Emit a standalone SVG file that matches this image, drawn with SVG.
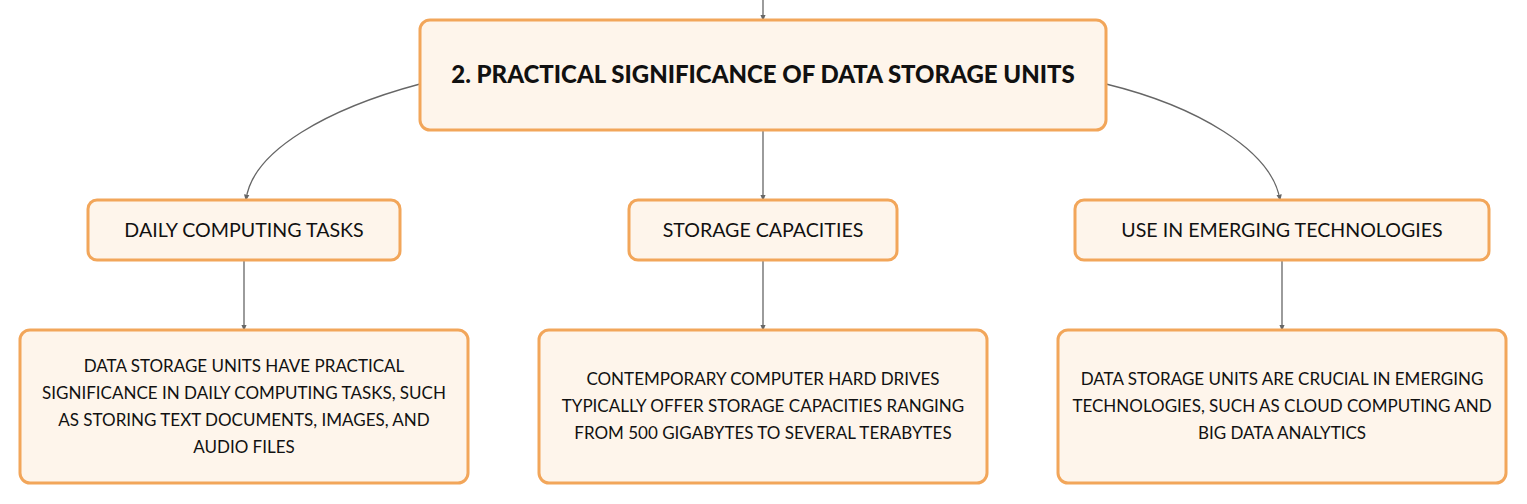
<svg xmlns="http://www.w3.org/2000/svg" width="1527" height="504" viewBox="0 0 1527 504">
<style>
.box{fill:#FEF5EB;stroke:#F2A65A;stroke-width:3}
.t{font-family:Lato,"Noto Sans",sans-serif;fill:#111;text-anchor:middle}
.h{font-size:24px;font-weight:900}
.m{font-size:19.6px}
.s{font-size:17px}
.c{fill:none;stroke:#666;stroke-width:1.3}
</style>
<defs>
<marker id="a" viewBox="0 0 6 6" refX="5" refY="3" markerWidth="5" markerHeight="5" orient="auto">
<path d="M0,0.5 L6,3 L0,5.5 z" fill="#666"/>
</marker>
</defs>
<rect width="1527" height="504" fill="#fff"/>
<g id="connectors">
<path class="c" d="M763,0 L763,20" marker-end="url(#a)"/>
<path class="c" d="M763,130 L763,200" marker-end="url(#a)"/>
<path class="c" d="M420,84 C330,108 252,150 246,200" marker-end="url(#a)"/>
<path class="c" d="M1106,84 C1196,106 1272,150 1280,200" marker-end="url(#a)"/>
<path class="c" d="M244,260 L244,330" marker-end="url(#a)"/>
<path class="c" d="M763,260 L763,330" marker-end="url(#a)"/>
<path class="c" d="M1282,260 L1282,330" marker-end="url(#a)"/>
</g>
<g id="root">
<rect class="box" x="420" y="20" width="686" height="110" rx="10"/>
<text class="t h" x="763" y="83">2. PRACTICAL SIGNIFICANCE OF DATA STORAGE UNITS</text>
</g>
<g id="daily">
<rect class="box" x="88" y="200" width="312" height="60" rx="9"/>
<text class="t m" x="244" y="237">DAILY COMPUTING TASKS</text>
</g>
<g id="capacities">
<rect class="box" x="629" y="200" width="268" height="60" rx="9"/>
<text class="t m" x="763" y="237">STORAGE CAPACITIES</text>
</g>
<g id="emerging">
<rect class="box" x="1075" y="200" width="414" height="60" rx="9"/>
<text class="t m" x="1282" y="237">USE IN EMERGING TECHNOLOGIES</text>
</g>
<g id="daily-detail">
<rect class="box" x="20" y="330" width="448" height="153" rx="10"/>
<text class="t s" x="244" y="372">DATA STORAGE UNITS HAVE PRACTICAL</text>
<text class="t s" x="244" y="399">SIGNIFICANCE IN DAILY COMPUTING TASKS, SUCH</text>
<text class="t s" x="244" y="426">AS STORING TEXT DOCUMENTS, IMAGES, AND</text>
<text class="t s" x="244" y="453">AUDIO FILES</text>
</g>
<g id="capacities-detail">
<rect class="box" x="539" y="330" width="448" height="153" rx="10"/>
<text class="t s" x="763" y="385">CONTEMPORARY COMPUTER HARD DRIVES</text>
<text class="t s" x="763" y="412">TYPICALLY OFFER STORAGE CAPACITIES RANGING</text>
<text class="t s" x="763" y="439">FROM 500 GIGABYTES TO SEVERAL TERABYTES</text>
</g>
<g id="emerging-detail">
<rect class="box" x="1058" y="330" width="448" height="153" rx="10"/>
<text class="t s" x="1282" y="385">DATA STORAGE UNITS ARE CRUCIAL IN EMERGING</text>
<text class="t s" x="1282" y="412">TECHNOLOGIES, SUCH AS CLOUD COMPUTING AND</text>
<text class="t s" x="1282" y="439">BIG DATA ANALYTICS</text>
</g>
</svg>
